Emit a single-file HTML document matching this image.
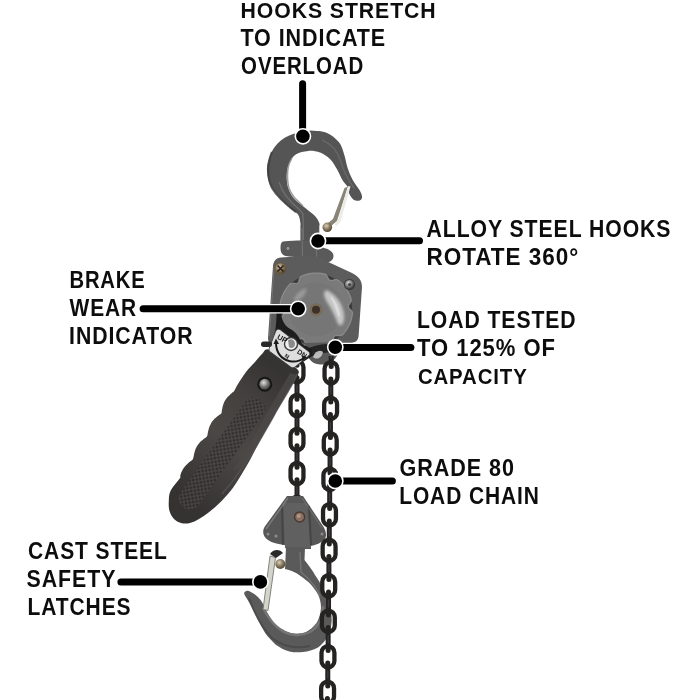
<!DOCTYPE html>
<html><head><meta charset="utf-8"><style>
html,body{margin:0;padding:0;background:#fff;}
svg{display:block;}
svg{will-change:transform;}
.t text{font-family:"Liberation Sans",sans-serif;font-weight:bold;font-size:23px;letter-spacing:1px;fill:#0d0d0d;}
</style></head><body>
<svg width="700" height="700" viewBox="0 0 700 700">
<rect width="700" height="700" fill="#fff"/>

<defs>
<clipPath id="clipL"><rect x="0" y="362" width="700" height="135"/></clipPath>
<clipPath id="clipR"><rect x="0" y="356" width="700" height="344"/></clipPath>
<linearGradient id="gHandle" x1="0" y1="0" x2="1" y2="0" gradientTransform="rotate(-58 0.5 0.5)">
<stop offset="0" stop-color="#353332"/><stop offset="0.45" stop-color="#4a4745"/><stop offset="0.75" stop-color="#43403e"/><stop offset="1" stop-color="#363433"/>
</linearGradient>
<radialGradient id="gBolt" cx="0.4" cy="0.35" r="0.7">
<stop offset="0" stop-color="#d8d0c0"/><stop offset="0.5" stop-color="#8a7a60"/><stop offset="1" stop-color="#4a4030"/>
</radialGradient>
<radialGradient id="gBoltS" cx="0.4" cy="0.35" r="0.7">
<stop offset="0" stop-color="#e0e0e0"/><stop offset="0.5" stop-color="#808080"/><stop offset="1" stop-color="#303030"/>
</radialGradient>
<pattern id="knurl" width="3.6" height="3.6" patternUnits="userSpaceOnUse" patternTransform="rotate(45)">
<rect width="3.6" height="3.6" fill="#4a4745"/><rect x="0.7" y="0.7" width="2.2" height="2.2" fill="#2a2827"/>
</pattern>
<clipPath id="clipHandle"><path d="M262.0,354.0 C264.5,352.0 264.3,347.7 270.0,350.0 C275.7,352.3 291.3,363.8 296.0,368.0 C300.7,372.2 298.3,372.7 298.0,375.0 C297.7,377.3 295.4,379.7 294.0,382.0 C292.6,384.3 292.1,384.9 289.9,388.6 C287.7,392.3 284.1,398.4 280.9,404.0 C277.7,409.6 274.0,416.0 270.6,422.0 C267.2,428.0 263.7,433.7 260.3,440.0 C256.9,446.3 253.4,453.8 250.0,460.0 C246.6,466.2 243.2,471.8 240.0,477.0 C236.8,482.2 234.0,486.6 230.5,491.0 C227.0,495.4 222.7,499.9 219.0,503.5 C215.3,507.1 211.9,509.9 208.6,512.5 C205.3,515.1 202.1,517.2 199.0,519.0 C195.9,520.8 193.0,522.3 190.0,523.0 C187.0,523.7 183.7,523.7 181.0,523.0 C178.3,522.3 175.9,521.0 174.0,519.0 C172.1,517.0 170.4,514.0 169.5,511.0 C168.6,508.0 168.6,504.3 168.8,501.0 C169.0,497.7 168.7,494.7 170.5,491.0 C172.3,487.3 178.0,481.1 179.7,478.6 C181.3,476.1 180.0,476.9 180.2,476.0 C180.4,475.2 180.7,474.3 180.9,473.5 C181.2,472.7 181.5,471.9 181.9,471.2 C182.2,470.4 182.6,469.7 183.0,468.9 C183.5,468.2 184.0,467.6 184.5,466.9 C185.0,466.2 185.6,465.6 186.2,465.0 C186.8,464.4 187.4,463.8 188.1,463.2 C188.7,462.7 189.4,462.1 190.1,461.6 C190.8,461.0 191.7,460.6 192.3,460.0 C192.8,459.3 193.2,458.5 193.4,457.7 C193.7,456.9 193.7,455.9 193.9,455.1 C194.1,454.2 194.2,453.3 194.5,452.5 C194.7,451.7 194.9,450.8 195.2,450.0 C195.5,449.2 195.8,448.4 196.2,447.7 C196.6,446.9 197.0,446.2 197.4,445.5 C197.9,444.8 198.4,444.1 198.9,443.5 C199.5,442.8 200.0,442.2 200.6,441.6 C201.3,441.0 201.9,440.4 202.6,439.9 C203.3,439.3 204.0,438.8 204.7,438.2 C205.4,437.7 206.4,437.3 206.9,436.6 C207.3,436.0 207.4,435.0 207.6,434.2 C207.8,433.3 207.9,432.4 208.1,431.5 C208.3,430.7 208.5,429.8 208.7,429.0 C209.0,428.1 209.2,427.3 209.5,426.5 C209.8,425.7 210.2,425.0 210.6,424.2 C210.9,423.5 211.4,422.8 211.8,422.1 C212.3,421.4 212.8,420.7 213.4,420.1 C213.9,419.5 214.5,418.8 215.1,418.3 C215.8,417.7 216.4,417.1 217.1,416.5 C217.8,416.0 218.5,415.4 219.2,414.9 C220.0,414.4 221.0,414.0 221.4,413.3 C221.9,412.6 221.7,411.5 221.8,410.6 C222.0,409.8 222.2,408.9 222.4,408.0 C222.5,407.1 222.7,406.3 223.0,405.5 C223.2,404.6 223.5,403.8 223.8,403.1 C224.2,402.3 224.5,401.5 224.9,400.8 C225.3,400.1 225.8,399.3 226.2,398.7 C226.7,398.0 227.3,397.3 227.8,396.7 C228.4,396.1 229.0,395.5 229.7,394.9 C230.3,394.3 231.0,393.7 231.7,393.2 C232.3,392.6 232.7,393.1 233.8,391.6 C234.8,390.0 236.0,387.3 238.0,384.0 C240.0,380.7 243.2,375.7 246.0,372.0 C248.8,368.3 252.3,365.0 255.0,362.0 C257.7,359.0 259.5,356.0 262.0,354.0 Z"/></clipPath>
<filter id="blur1" x="-50%" y="-50%" width="200%" height="200%"><feGaussianBlur stdDeviation="1.5"/></filter>
</defs>
<!-- left chain -->
<g clip-path="url(#clipL)"><rect x="294.50" y="341.25" width="5.0" height="26.5" rx="2.5" fill="#252222"/>
<rect x="294.50" y="375.25" width="5.0" height="26.5" rx="2.5" fill="#252222"/>
<rect x="294.50" y="409.25" width="5.0" height="26.5" rx="2.5" fill="#252222"/>
<rect x="294.50" y="443.25" width="5.0" height="26.5" rx="2.5" fill="#252222"/>
<rect x="294.50" y="477.25" width="5.0" height="26.5" rx="2.5" fill="#252222"/>
<rect x="290.55" y="360.90" width="12.90" height="21.20" rx="6.45" fill="none" stroke="#252222" stroke-width="4.3"/>
<rect x="290.55" y="394.90" width="12.90" height="21.20" rx="6.45" fill="none" stroke="#252222" stroke-width="4.3"/>
<rect x="290.55" y="428.90" width="12.90" height="21.20" rx="6.45" fill="none" stroke="#252222" stroke-width="4.3"/>
<rect x="290.55" y="462.90" width="12.90" height="21.20" rx="6.45" fill="none" stroke="#252222" stroke-width="4.3"/>
<rect x="290.55" y="496.90" width="12.90" height="21.20" rx="6.45" fill="none" stroke="#252222" stroke-width="4.3"/>
<rect x="296.30" y="350.50" width="1.4" height="8" fill="#3d3b3b"/>
<rect x="296.30" y="384.50" width="1.4" height="8" fill="#3d3b3b"/>
<rect x="296.30" y="418.50" width="1.4" height="8" fill="#3d3b3b"/>
<rect x="296.30" y="452.50" width="1.4" height="8" fill="#3d3b3b"/>
<rect x="296.30" y="486.50" width="1.4" height="8" fill="#3d3b3b"/></g>

<!-- top hook -->
<path fill="#555" d="M311.6,130.6 C307.9,131.4 295.3,132.9 289.3,135.4 C283.3,137.9 279.0,141.7 275.6,145.7 C272.2,149.7 270.1,155.1 268.7,159.4 C267.3,163.7 266.7,167.1 267.0,171.4 C267.3,175.7 268.4,180.8 270.4,185.1 C272.4,189.4 275.9,193.4 279.0,197.1 C282.1,200.8 286.2,204.5 289.3,207.4 C292.4,210.3 296.0,211.7 297.9,214.3 C299.8,216.9 300.0,221.0 300.4,222.9 C300.8,224.8 300.4,225.5 300.4,226.0 L300.4,244 L319.3,244 L319.3,226.0 C319.3,225.5 320.0,224.6 319.3,222.9 C318.6,221.2 317.4,218.6 315.0,216.0 C312.6,213.4 308.1,210.2 304.7,207.4 C301.3,204.6 297.1,202.0 294.4,198.9 C291.7,195.8 289.7,192.6 288.4,188.6 C287.1,184.6 286.5,179.2 286.7,174.9 C286.9,170.6 287.7,166.3 289.3,162.9 C290.9,159.5 293.0,156.3 296.1,154.3 C299.2,152.3 304.1,151.2 308.1,150.9 C312.1,150.6 316.4,151.2 320.1,152.6 C323.8,154.0 327.5,156.6 330.4,159.4 C333.3,162.2 335.3,166.3 337.3,169.7 C339.3,173.1 340.7,177.1 342.4,180.0 C344.1,182.9 346.5,184.6 347.6,186.9 C348.8,189.2 348.3,191.6 349.3,193.7 C350.3,195.8 351.9,198.5 353.6,199.7 C355.3,200.8 358.2,201.0 359.6,200.6 C361.0,200.2 362.1,198.8 362.1,197.1 C362.1,195.4 361.2,193.2 359.6,190.3 C358.0,187.5 354.7,183.7 352.7,180.0 C350.7,176.3 349.0,172.3 347.6,168.0 C346.2,163.7 345.5,158.6 344.1,154.3 C342.7,150.0 341.9,145.9 339.0,142.3 C336.1,138.7 331.6,134.9 327.0,132.9 C322.4,130.9 314.2,131.0 311.6,130.6 Z"/>
<path fill="none" stroke="#3e3e3e" stroke-width="2.2" opacity="0.8" d="M272,152 C267,164 267,178 272,188 C278,198 288,206 296,212"/>
<path fill="none" stroke="#8e8e8e" stroke-width="1.5" opacity="0.85" d="M292.0,158.0 C291.4,159.3 289.2,163.0 288.5,166.0 C287.8,169.0 287.4,172.3 287.5,176.0 C287.6,179.7 287.9,184.5 289.0,188.0 C290.1,191.5 291.7,194.0 294.0,197.0 C296.3,200.0 301.5,204.5 303.0,206.0"/>
<path fill="none" stroke="#7a7a7a" stroke-width="1.3" opacity="0.7" d="M279,182 C282,192 290,202 300,210 L303,214 L303.5,240"/>
<path fill="none" stroke="#6e6e6e" stroke-width="1.5" opacity="0.7" d="M322,140 C332,144 338,152 341,162 C344,172 348,180 354,188"/>
<!-- top latch -->
<path fill="#8a8478" d="M344.5,188 L348,186.5 L337,221 L331,226 L328,223 L333,219 Z"/>
<path fill="#ecece6" d="M348,186 L350.5,186.5 L340.5,221.5 L336.5,226 L334.5,224.5 L338,220 Z"/>
<circle cx="327.3" cy="227.3" r="4.8" fill="url(#gBolt)"/>
<!-- swivel bracket -->
<path fill="#5a5a5a" d="M283,241.5 C290,240.5 296,240.5 301,240.5 L316,241.5 C319,243 321,246.5 324,248 C329,249 333.5,252 333.5,256 C333.5,260 330,262.5 326,262.5 C322,262.5 319,260 316,259 L300,257.5 C295,257 290,256.5 286,256 C282,255.5 280.5,252 280.5,248 C280.5,244.5 281,242 283,241.5 Z"/>
<path fill="none" stroke="#828282" stroke-width="1" opacity="0.7" d="M302,228 L302.5,257 M316,246 L317,259"/>
<circle cx="288" cy="248.5" r="1.4" fill="#9a9a9a"/>
<!-- housing -->
<path fill="#5c5c5c" d="M281,257.5 L310,255.5 C315,255.5 320,257.5 325,260.5 L352,273 C358,276 362,280 362,287 L358.6,336 C358,341 355,343 350,343 L276,346 C271,346 268,343 268,338 L273,266 C273.5,261 276,258 281,257.5 Z"/>
<path fill="none" stroke="#8a8a8a" stroke-width="1" opacity="0.5" d="M274,267 L269.5,336"/>
<!-- wheel recess -->
<circle cx="316.2" cy="309.5" r="36" fill="#3a3a3a"/>
<!-- wheel -->
<path fill="#7a7a7a" d="M350.3,309.5 L351.5,310.7 L352.3,312.0 L352.5,313.3 L352.3,314.6 L352.1,315.8 L351.9,317.1 L351.6,318.3 L351.3,319.6 L350.9,320.8 L350.5,322.0 L350.0,323.2 L349.5,324.3 L349.0,325.5 L348.4,326.6 L347.8,327.8 L347.2,328.8 L346.5,329.9 L345.7,331.0 L345.0,332.0 L344.2,333.0 L343.3,333.9 L342.5,334.9 L341.3,335.5 L339.8,335.7 L338.1,335.6 L336.5,335.5 L335.2,335.7 L334.3,336.3 L333.7,337.5 L333.3,339.0 L332.8,340.6 L332.1,342.0 L331.0,342.8 L329.9,343.3 L328.7,343.8 L327.5,344.2 L326.3,344.6 L325.0,344.9 L323.8,345.2 L322.5,345.4 L321.3,345.6 L320.0,345.8 L318.7,345.9 L317.5,346.0 L316.2,346.0 L314.9,346.0 L313.7,345.9 L312.4,345.8 L311.1,345.6 L309.9,345.4 L308.6,345.2 L307.4,344.9 L306.2,344.3 L305.3,343.0 L304.5,341.5 L303.8,340.1 L303.0,339.1 L302.0,338.6 L300.7,338.7 L299.1,339.0 L297.5,339.4 L296.0,339.5 L294.7,339.0 L293.7,338.3 L292.7,337.5 L291.8,336.6 L290.8,335.8 L289.9,334.9 L289.1,333.9 L288.2,333.0 L287.4,332.0 L286.7,331.0 L285.9,329.9 L285.2,328.8 L284.6,327.8 L284.0,326.6 L283.4,325.5 L282.9,324.3 L282.4,323.2 L281.9,322.0 L281.5,320.8 L281.1,319.6 L281.1,318.2 L281.7,316.8 L282.6,315.4 L283.5,314.1 L284.0,312.9 L283.9,311.8 L283.2,310.7 L282.1,309.5 L280.9,308.3 L280.1,307.0 L279.9,305.7 L280.1,304.4 L280.3,303.2 L280.5,301.9 L280.8,300.7 L281.1,299.4 L281.5,298.2 L281.9,297.0 L282.4,295.8 L282.9,294.7 L283.4,293.5 L284.0,292.4 L284.6,291.2 L285.2,290.2 L285.9,289.1 L286.7,288.0 L287.4,287.0 L288.2,286.0 L289.1,285.1 L289.9,284.1 L291.1,283.5 L292.6,283.3 L294.3,283.4 L295.9,283.5 L297.2,283.3 L298.1,282.7 L298.7,281.5 L299.1,280.0 L299.6,278.4 L300.3,277.0 L301.4,276.2 L302.5,275.7 L303.7,275.2 L304.9,274.8 L306.1,274.4 L307.4,274.1 L308.6,273.8 L309.9,273.6 L311.1,273.4 L312.4,273.2 L313.7,273.1 L314.9,273.0 L316.2,273.0 L317.5,273.0 L318.7,273.1 L320.0,273.2 L321.3,273.4 L322.5,273.6 L323.8,273.8 L325.0,274.1 L326.2,274.7 L327.1,276.0 L327.9,277.5 L328.6,278.9 L329.4,279.9 L330.4,280.4 L331.7,280.3 L333.3,280.0 L334.9,279.6 L336.4,279.5 L337.7,280.0 L338.7,280.7 L339.7,281.5 L340.6,282.4 L341.6,283.2 L342.5,284.1 L343.3,285.1 L344.2,286.0 L345.0,287.0 L345.7,288.0 L346.5,289.1 L347.2,290.2 L347.8,291.2 L348.4,292.4 L349.0,293.5 L349.5,294.7 L350.0,295.8 L350.5,297.0 L350.9,298.2 L351.3,299.4 L351.3,300.8 L350.7,302.2 L349.8,303.6 L348.9,304.9 L348.4,306.1 L348.5,307.2 L349.2,308.3 Z"/>
<path fill="none" stroke="#9a9a9a" stroke-width="1.2" opacity="0.7" d="M350.3,309.5 L351.5,310.7 L352.3,312.0 L352.5,313.3 L352.3,314.6 L352.1,315.8 L351.9,317.1 L351.6,318.3 L351.3,319.6 L350.9,320.8 L350.5,322.0 L350.0,323.2 L349.5,324.3 L349.0,325.5 L348.4,326.6 L347.8,327.8 L347.2,328.8 L346.5,329.9 L345.7,331.0 L345.0,332.0 L344.2,333.0 L343.3,333.9 L342.5,334.9 L341.3,335.5 L339.8,335.7 L338.1,335.6 L336.5,335.5 L335.2,335.7 L334.3,336.3 L333.7,337.5 L333.3,339.0 L332.8,340.6 L332.1,342.0 L331.0,342.8 L329.9,343.3 L328.7,343.8 L327.5,344.2 L326.3,344.6 L325.0,344.9 L323.8,345.2 L322.5,345.4 L321.3,345.6 L320.0,345.8 L318.7,345.9 L317.5,346.0 L316.2,346.0 L314.9,346.0 L313.7,345.9 L312.4,345.8 L311.1,345.6 L309.9,345.4 L308.6,345.2 L307.4,344.9 L306.2,344.3 L305.3,343.0 L304.5,341.5 L303.8,340.1 L303.0,339.1 L302.0,338.6 L300.7,338.7 L299.1,339.0 L297.5,339.4 L296.0,339.5 L294.7,339.0 L293.7,338.3 L292.7,337.5 L291.8,336.6 L290.8,335.8 L289.9,334.9 L289.1,333.9 L288.2,333.0 L287.4,332.0 L286.7,331.0 L285.9,329.9 L285.2,328.8 L284.6,327.8 L284.0,326.6 L283.4,325.5 L282.9,324.3 L282.4,323.2 L281.9,322.0 L281.5,320.8 L281.1,319.6 L281.1,318.2 L281.7,316.8 L282.6,315.4 L283.5,314.1 L284.0,312.9 L283.9,311.8 L283.2,310.7 L282.1,309.5 L280.9,308.3 L280.1,307.0 L279.9,305.7 L280.1,304.4 L280.3,303.2 L280.5,301.9 L280.8,300.7 L281.1,299.4 L281.5,298.2 L281.9,297.0 L282.4,295.8 L282.9,294.7 L283.4,293.5 L284.0,292.4 L284.6,291.2 L285.2,290.2 L285.9,289.1 L286.7,288.0 L287.4,287.0 L288.2,286.0 L289.1,285.1 L289.9,284.1 L291.1,283.5 L292.6,283.3 L294.3,283.4 L295.9,283.5 L297.2,283.3 L298.1,282.7 L298.7,281.5 L299.1,280.0 L299.6,278.4 L300.3,277.0 L301.4,276.2 L302.5,275.7 L303.7,275.2 L304.9,274.8 L306.1,274.4 L307.4,274.1 L308.6,273.8 L309.9,273.6 L311.1,273.4 L312.4,273.2 L313.7,273.1 L314.9,273.0 L316.2,273.0 L317.5,273.0 L318.7,273.1 L320.0,273.2 L321.3,273.4 L322.5,273.6 L323.8,273.8 L325.0,274.1 L326.2,274.7 L327.1,276.0 L327.9,277.5 L328.6,278.9 L329.4,279.9 L330.4,280.4 L331.7,280.3 L333.3,280.0 L334.9,279.6 L336.4,279.5 L337.7,280.0 L338.7,280.7 L339.7,281.5 L340.6,282.4 L341.6,283.2 L342.5,284.1 L343.3,285.1 L344.2,286.0 L345.0,287.0 L345.7,288.0 L346.5,289.1 L347.2,290.2 L347.8,291.2 L348.4,292.4 L349.0,293.5 L349.5,294.7 L350.0,295.8 L350.5,297.0 L350.9,298.2 L351.3,299.4 L351.3,300.8 L350.7,302.2 L349.8,303.6 L348.9,304.9 L348.4,306.1 L348.5,307.2 L349.2,308.3 Z"/>
<circle cx="316.2" cy="309.5" r="27" fill="#767676"/>
<path fill="#d0d0d0" opacity="0.9" filter="url(#blur1)" d="M326,290 C336,294 343,304 344,315 C344.5,322 342,328 338,324 C335,316 331,308 327,302 C324,297 323,292 326,290 Z"/><path fill="#e0e0e0" opacity="0.8" d="M331,296 C336,301 339,307 340,314 C340,317 339,318 338,316 C336,310 334,304 331,299 Z"/>
<path fill="#a2a2a2" opacity="0.8" filter="url(#blur1)" d="M293,301 C295,295 299,290 306,288 C307,291 305,295 302,298 C299,300 296,302 293,301 Z"/>
<circle cx="316" cy="309.7" r="6.5" fill="#7a6a58"/>
<circle cx="316" cy="309.7" r="4" fill="#3c3028"/>
<!-- bolts -->
<circle cx="280.6" cy="268.5" r="6.3" fill="#6a5a40"/>
<circle cx="280.6" cy="268.5" r="5.3" fill="url(#gBolt)"/>
<path stroke="#2a2018" stroke-width="1.6" d="M277.5,265.5 L283.5,271.5 M283.5,265.5 L277.5,271.5"/>
<circle cx="349.5" cy="284.5" r="5.6" fill="#3a3a3a"/>
<circle cx="349.5" cy="284.5" r="4.6" fill="url(#gBoltS)"/>
<circle cx="349.5" cy="284.5" r="1.6" fill="#444"/>
<!-- chain guide -->
<path fill="#5a5a5a" d="M305,343 L340,342 C341,355 333,364.5 321,364.5 C311,365 305,356 305,343 Z"/>
<path fill="#242424" d="M304,351 C312,345 326,343 338,344 L336,352 C326,352 316,354 308,358 Z"/>
<path fill="#c8c8c8" opacity="0.9" d="M313,357 C315,351 320,349.5 323,352 C322,357.5 317,360.5 313,357 Z"/>
<!-- lever arm dark (behind plate) -->
<path fill="#1e1d1d" d="M276.5,312 L281,312 C281.5,321 285,326.5 292,330 C297.5,333.5 300,339 302,344 L312,349 L312,356 L300,364 L272,342 C275,334 276.5,326 276.5,312 Z"/>
<!-- handle -->
<path fill="url(#gHandle)" d="M262.0,354.0 C264.5,352.0 264.3,347.7 270.0,350.0 C275.7,352.3 291.3,363.8 296.0,368.0 C300.7,372.2 298.3,372.7 298.0,375.0 C297.7,377.3 295.4,379.7 294.0,382.0 C292.6,384.3 292.1,384.9 289.9,388.6 C287.7,392.3 284.1,398.4 280.9,404.0 C277.7,409.6 274.0,416.0 270.6,422.0 C267.2,428.0 263.7,433.7 260.3,440.0 C256.9,446.3 253.4,453.8 250.0,460.0 C246.6,466.2 243.2,471.8 240.0,477.0 C236.8,482.2 234.0,486.6 230.5,491.0 C227.0,495.4 222.7,499.9 219.0,503.5 C215.3,507.1 211.9,509.9 208.6,512.5 C205.3,515.1 202.1,517.2 199.0,519.0 C195.9,520.8 193.0,522.3 190.0,523.0 C187.0,523.7 183.7,523.7 181.0,523.0 C178.3,522.3 175.9,521.0 174.0,519.0 C172.1,517.0 170.4,514.0 169.5,511.0 C168.6,508.0 168.6,504.3 168.8,501.0 C169.0,497.7 168.7,494.7 170.5,491.0 C172.3,487.3 178.0,481.1 179.7,478.6 C181.3,476.1 180.0,476.9 180.2,476.0 C180.4,475.2 180.7,474.3 180.9,473.5 C181.2,472.7 181.5,471.9 181.9,471.2 C182.2,470.4 182.6,469.7 183.0,468.9 C183.5,468.2 184.0,467.6 184.5,466.9 C185.0,466.2 185.6,465.6 186.2,465.0 C186.8,464.4 187.4,463.8 188.1,463.2 C188.7,462.7 189.4,462.1 190.1,461.6 C190.8,461.0 191.7,460.6 192.3,460.0 C192.8,459.3 193.2,458.5 193.4,457.7 C193.7,456.9 193.7,455.9 193.9,455.1 C194.1,454.2 194.2,453.3 194.5,452.5 C194.7,451.7 194.9,450.8 195.2,450.0 C195.5,449.2 195.8,448.4 196.2,447.7 C196.6,446.9 197.0,446.2 197.4,445.5 C197.9,444.8 198.4,444.1 198.9,443.5 C199.5,442.8 200.0,442.2 200.6,441.6 C201.3,441.0 201.9,440.4 202.6,439.9 C203.3,439.3 204.0,438.8 204.7,438.2 C205.4,437.7 206.4,437.3 206.9,436.6 C207.3,436.0 207.4,435.0 207.6,434.2 C207.8,433.3 207.9,432.4 208.1,431.5 C208.3,430.7 208.5,429.8 208.7,429.0 C209.0,428.1 209.2,427.3 209.5,426.5 C209.8,425.7 210.2,425.0 210.6,424.2 C210.9,423.5 211.4,422.8 211.8,422.1 C212.3,421.4 212.8,420.7 213.4,420.1 C213.9,419.5 214.5,418.8 215.1,418.3 C215.8,417.7 216.4,417.1 217.1,416.5 C217.8,416.0 218.5,415.4 219.2,414.9 C220.0,414.4 221.0,414.0 221.4,413.3 C221.9,412.6 221.7,411.5 221.8,410.6 C222.0,409.8 222.2,408.9 222.4,408.0 C222.5,407.1 222.7,406.3 223.0,405.5 C223.2,404.6 223.5,403.8 223.8,403.1 C224.2,402.3 224.5,401.5 224.9,400.8 C225.3,400.1 225.8,399.3 226.2,398.7 C226.7,398.0 227.3,397.3 227.8,396.7 C228.4,396.1 229.0,395.5 229.7,394.9 C230.3,394.3 231.0,393.7 231.7,393.2 C232.3,392.6 232.7,393.1 233.8,391.6 C234.8,390.0 236.0,387.3 238.0,384.0 C240.0,380.7 243.2,375.7 246.0,372.0 C248.8,368.3 252.3,365.0 255.0,362.0 C257.7,359.0 259.5,356.0 262.0,354.0 Z"/>
<path fill="none" stroke="#5a5858" stroke-width="1.3" opacity="0.8" d="M297,374 C294,382 291,387 288,392 C284,399 280,405 276,412 C272,420 267,428 262,437 C256,448 249,458 242,468 C236,477 229,486 222,494"/>
<g clip-path="url(#clipHandle)">
<path fill="#4c4a48" opacity="0.75" d="M297,375 C294,382 291,387 288,392 C283,400 279,407 275,414 C270,423 265,432 259,442 C254,451 248,460 242,469 L233,470 C239,460 245,451 251,441 C257,431 262,422 267,413 C271,406 275,399 279,392 C283,385 287,379 290,373 Z"/>
<g transform="translate(262,401) rotate(35.5)">
<rect x="-13" y="0" width="22" height="132" rx="10" fill="url(#knurl)" opacity="0.8"/>
</g>


</g>
<circle cx="264.8" cy="384.3" r="7.5" fill="#161616"/>
<circle cx="264.8" cy="384.3" r="5.5" fill="url(#gBoltS)"/>
<!-- plate -->
<path fill="#dedede" stroke="#3a3a3a" stroke-width="0.8" stroke-linejoin="round" d="M276,330.5 C277.5,329 279,329 280.5,330 L308.5,351.5 C310,352.8 310,354.5 309,355.5 L295,367 C293.8,368 292,368 290.8,367 L270.5,352 C269,351 268.8,349.5 269.3,348 Z"/>
<circle cx="291" cy="344" r="7.2" fill="#3a3a3a"/>
<circle cx="291" cy="344" r="5.8" fill="#f0f0f0"/>
<path fill="#8a8a8a" d="M288,340 C291,338 295,340 295,344 C295,348 291,349 289,347 Z"/>
<path fill="none" stroke="#1a1a1a" stroke-width="2" d="M276,343 C276,352 281,359 289,361 C295,362.5 300,361 304,358"/>
<path fill="#1a1a1a" d="M273.5,344 L276,338.5 L279,344 Z"/>
<path fill="#1a1a1a" d="M302,355.5 L307,357 L302.5,361 Z"/>
<g font-family="Liberation Sans" font-weight="bold" fill="#1a1a1a">
<text x="0" y="0" font-size="7.5" transform="translate(276.5,338.5) rotate(28)">UP</text>
<text x="0" y="0" font-size="7" transform="translate(296.5,353) rotate(32)">DN</text>
<text x="0" y="0" font-size="6" transform="translate(284,357) rotate(30)">N</text>
</g>
<rect x="261" y="341.5" width="11" height="5.5" rx="2.7" fill="#2a2a2a"/>

<!-- lower block -->
<path fill="#575757" d="M287,496 L303,496 L323.6,527 C326.5,532 327,537 324,540 C321,543 316,545 311,546 L311,549 L286,549 L285,545 C278,544 272,543 268,540 C263,537 262,531 264.5,527 Z"/>
<path fill="#606060" d="M283,503 L307,503 L311,548 L285,548 Z"/>
<path fill="none" stroke="#404040" stroke-width="2" opacity="0.8" d="M282,506 L283,545 M309,506 L311,545"/>
<path fill="none" stroke="#8a8a8a" stroke-width="1.4" opacity="0.7" d="M288,498 L266,529"/>
<path fill="none" stroke="#7a7a7a" stroke-width="1.2" opacity="0.6" d="M302,498 L322,528"/>
<circle cx="268" cy="534" r="1.5" fill="#8a8a8a"/><circle cx="276" cy="536" r="1.6" fill="#8a8a8a"/><circle cx="322" cy="534" r="1.5" fill="#8a8a8a"/>
<circle cx="299.6" cy="517" r="5.8" fill="#4a3a30"/>
<circle cx="299.6" cy="517" r="4.3" fill="#8a7060"/>
<circle cx="298.8" cy="516" r="2" fill="#b09888"/>
<!-- lower hook -->
<path fill="#5a5a5a" d="M286,547 L305,547 L304.5,560 C309,566 313,571 315,575 C319,581 322,586 324,590 C327,596 329,602 330,608 C331.5,613 332,618 331.5,623 C331,628 330,632 328.5,635 C325,641 322,645 318,647.5 C313,650 308,651.5 303,652 C298,652.5 294,652.5 289.5,651.5 C284,650 280,647.5 276,645 C272,641 268,637 265.5,633.5 C262,628 259,622 256.5,617 C254,612 252,608 250.5,605 C248.5,601 246.5,598 245.2,596 C244,594 244,593 244.5,592.2 C245.5,591 247,590.5 248.2,590.7 C250.5,591.5 253,593 255,594.5 C257.5,596.5 259.5,598.5 261,600.5 C263,603.5 264.5,606.5 265.5,609.5 C268,614 270.5,618 273,621.5 C276,625 279,627.5 282,629 C286,631.5 290,633 294,633.5 C298,634 302,633.5 306,632 C310,630 313.5,627 316.5,623 C319,619 320.5,614 321,608 C321,603 320,598.5 318,594.5 C315.5,590 312.5,586 309,582.5 C305,579 301,576 297,573.5 C293,571 289,570 285,569 Z"/>
<path fill="none" stroke="#7c7c7c" stroke-width="2.5" opacity="0.8" d="M263,608 C268,618 274,626 283,631.5 C292,636 302,636 310,632 C318,627 323,618 323,606"/>
<path fill="none" stroke="#454545" stroke-width="2" opacity="0.7" d="M249,598 C254,612 262,628 272,638 C282,646 296,649 310,646"/>
<path fill="none" stroke="#7e7e7e" stroke-width="1.5" opacity="0.7" d="M300,552 L301,572 C308,578 316,586 320,596"/>
<!-- lower latch -->
<path fill="#d4d4cc" stroke="#6a6a62" stroke-width="0.8" d="M270,556 L275.5,557.5 L268,610.5 L263,609.5 Z"/>
<path fill="#2a2a2a" d="M270,554 C273,549 280,549 283,553 L276,558 Z"/>
<circle cx="280.3" cy="564" r="5" fill="url(#gBolt)"/>

<!-- right chain (front) -->
<g clip-path="url(#clipR)"><rect x="328.69" y="341.05" width="5.0" height="28.0" rx="2.5" fill="#252222"/>
<rect x="328.31" y="376.55" width="5.0" height="28.0" rx="2.5" fill="#252222"/>
<rect x="327.93" y="412.05" width="5.0" height="28.0" rx="2.5" fill="#252222"/>
<rect x="327.55" y="447.55" width="5.0" height="28.0" rx="2.5" fill="#252222"/>
<rect x="327.17" y="483.05" width="5.0" height="28.0" rx="2.5" fill="#252222"/>
<rect x="326.79" y="518.55" width="5.0" height="28.0" rx="2.5" fill="#252222"/>
<rect x="326.41" y="554.05" width="5.0" height="28.0" rx="2.5" fill="#252222"/>
<rect x="326.03" y="589.55" width="5.0" height="28.0" rx="2.5" fill="#252222"/>
<rect x="325.65" y="625.05" width="5.0" height="28.0" rx="2.5" fill="#252222"/>
<rect x="325.27" y="660.55" width="5.0" height="28.0" rx="2.5" fill="#252222"/>
<rect x="324.89" y="696.05" width="5.0" height="28.0" rx="2.5" fill="#252222"/>
<rect x="324.55" y="362.20" width="12.90" height="21.20" rx="6.45" fill="none" stroke="#252222" stroke-width="4.3"/>
<rect x="324.17" y="397.70" width="12.90" height="21.20" rx="6.45" fill="none" stroke="#252222" stroke-width="4.3"/>
<rect x="323.79" y="433.20" width="12.90" height="21.20" rx="6.45" fill="none" stroke="#252222" stroke-width="4.3"/>
<rect x="323.41" y="468.70" width="12.90" height="21.20" rx="6.45" fill="none" stroke="#252222" stroke-width="4.3"/>
<rect x="323.03" y="504.20" width="12.90" height="21.20" rx="6.45" fill="none" stroke="#252222" stroke-width="4.3"/>
<rect x="322.65" y="539.70" width="12.90" height="21.20" rx="6.45" fill="none" stroke="#252222" stroke-width="4.3"/>
<rect x="322.27" y="575.20" width="12.90" height="21.20" rx="6.45" fill="none" stroke="#252222" stroke-width="4.3"/>
<rect x="321.89" y="610.70" width="12.90" height="21.20" rx="6.45" fill="none" stroke="#252222" stroke-width="4.3"/>
<rect x="321.51" y="646.20" width="12.90" height="21.20" rx="6.45" fill="none" stroke="#252222" stroke-width="4.3"/>
<rect x="321.13" y="681.70" width="12.90" height="21.20" rx="6.45" fill="none" stroke="#252222" stroke-width="4.3"/>
<rect x="330.49" y="351.05" width="1.4" height="8" fill="#3d3b3b"/>
<rect x="330.11" y="386.55" width="1.4" height="8" fill="#3d3b3b"/>
<rect x="329.73" y="422.05" width="1.4" height="8" fill="#3d3b3b"/>
<rect x="329.35" y="457.55" width="1.4" height="8" fill="#3d3b3b"/>
<rect x="328.97" y="493.05" width="1.4" height="8" fill="#3d3b3b"/>
<rect x="328.59" y="528.55" width="1.4" height="8" fill="#3d3b3b"/>
<rect x="328.21" y="564.05" width="1.4" height="8" fill="#3d3b3b"/>
<rect x="327.83" y="599.55" width="1.4" height="8" fill="#3d3b3b"/>
<rect x="327.45" y="635.05" width="1.4" height="8" fill="#3d3b3b"/>
<rect x="327.07" y="670.55" width="1.4" height="8" fill="#3d3b3b"/>
<rect x="326.69" y="706.05" width="1.4" height="8" fill="#3d3b3b"/></g>


<g stroke="#fff" stroke-width="9.5" stroke-linecap="round"><line x1="302.6" y1="83.8" x2="302.6" y2="136.3"/>
<line x1="318" y1="240.8" x2="419.5" y2="240.8"/>
<line x1="143.1" y1="308.8" x2="298.2" y2="308.8"/>
<line x1="335.3" y1="347.5" x2="410.9" y2="347.5"/>
<line x1="335.3" y1="481" x2="392.4" y2="481"/>
<line x1="120.9" y1="581.9" x2="260.4" y2="581.9"/></g>
<g stroke="#000" stroke-width="7" stroke-linecap="round"><line x1="302.6" y1="83.8" x2="302.6" y2="136.3"/>
<line x1="318" y1="240.8" x2="419.5" y2="240.8"/>
<line x1="143.1" y1="308.8" x2="298.2" y2="308.8"/>
<line x1="335.3" y1="347.5" x2="410.9" y2="347.5"/>
<line x1="335.3" y1="481" x2="392.4" y2="481"/>
<line x1="120.9" y1="581.9" x2="260.4" y2="581.9"/></g>
<g fill="#000" stroke="#fff" stroke-width="1.6"><circle cx="302.9" cy="136.3" r="7.6"/><circle cx="318" cy="241" r="7.6"/><circle cx="298.2" cy="308.8" r="7.6"/><circle cx="335.3" cy="347.3" r="7.6"/><circle cx="335.3" cy="481" r="7.6"/><circle cx="260.4" cy="581.9" r="7.6"/></g>

<g class="t">
<text transform="translate(240.48,17.70) scale(0.9243,1)">HOOKS STRETCH</text>
<text transform="translate(240.40,45.50) scale(0.9355,1)">TO INDICATE</text>
<text transform="translate(241.10,73.50) scale(0.8898,1)">OVERLOAD</text>
<text transform="translate(426.50,236.80) scale(0.9235,1)">ALLOY STEEL HOOKS</text>
<text transform="translate(426.52,264.50) scale(0.9792,1)">ROTATE 360°</text>
<text transform="translate(69.42,287.60) scale(0.8788,1)">BRAKE</text>
<text transform="translate(69.60,315.90) scale(0.9096,1)">WEAR</text>
<text transform="translate(69.08,343.50) scale(0.9242,1)">INDICATOR</text>
<text transform="translate(416.98,327.90) scale(0.9211,1)">LOAD TESTED</text>
<text transform="translate(417.00,355.50) scale(0.9583,1)">TO 125% OF</text>
<text transform="translate(417.90,383.60) scale(0.8870,1)">CAPACITY</text>
<text transform="translate(399.50,475.70) scale(0.9377,1)">GRADE 80</text>
<text transform="translate(399.19,503.60) scale(0.9112,1)">LOAD CHAIN</text>
<text transform="translate(28.00,559.40) scale(0.9132,1)">CAST STEEL</text>
<text transform="translate(26.57,587.40) scale(0.9284,1)">SAFETY</text>
<text transform="translate(27.49,615.30) scale(0.9143,1)">LATCHES</text>
</g>
</svg>
</body></html>
